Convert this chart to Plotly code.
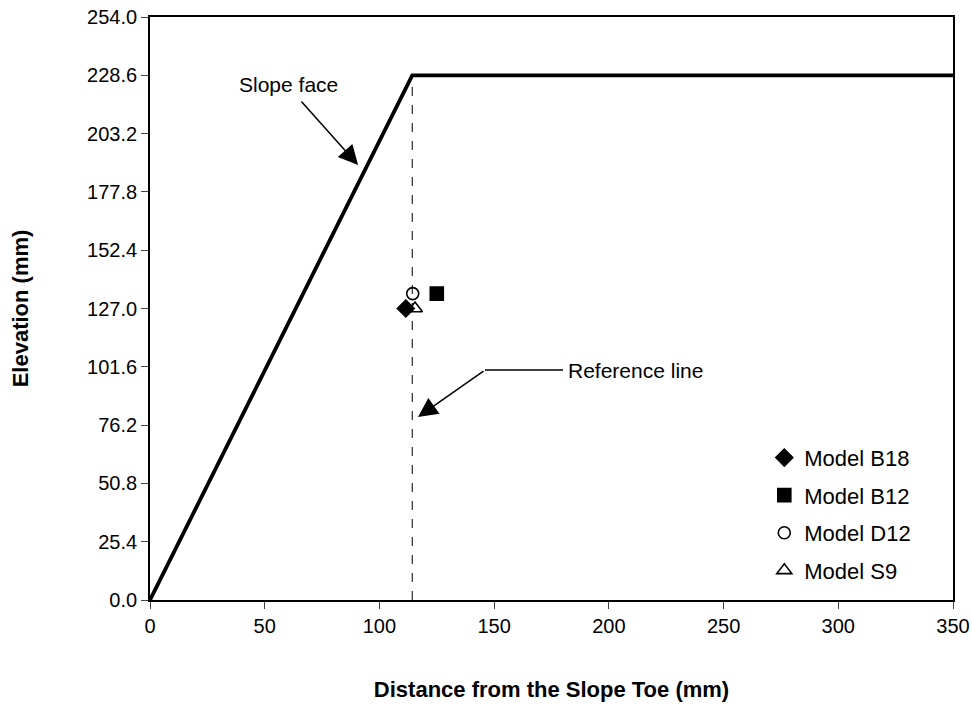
import plotly.graph_objects as go

# Slope profile (mm)
profile_x = [0, 114.3, 350]
profile_y = [0, 228.6, 228.6]

# Reference line
ref_x = [114.3, 114.3]
ref_y = [0, 228.6]

# Model measurements
models = ["Model B18", "Model B12", "Model D12", "Model S9"]
model_x = [111.5, 125.0, 114.5, 115.5]
model_y = [127.0, 133.5, 133.5, 127.0]
symbols = ["diamond", "square", "circle-open", "triangle-up-open"]
sizes = [13, 13, 12, 13]

y_ticks = [0.0, 25.4, 50.8, 76.2, 101.6, 127.0, 152.4, 177.8, 203.2, 228.6, 254.0]
x_ticks = [0, 50, 100, 150, 200, 250, 300, 350]

font_family = "Liberation Sans, Arial, sans-serif"

fig = go.Figure()
fig.add_trace(go.Scatter(x=profile_x, y=profile_y, mode="lines",
                         line=dict(color="black", width=3.8), showlegend=False, hoverinfo="skip"))
fig.add_trace(go.Scatter(x=ref_x, y=ref_y, mode="lines",
                         line=dict(color="black", width=1, dash="dash"), showlegend=False, hoverinfo="skip"))
for name, xv, yv, sym, sz in zip(models, model_x, model_y, symbols, sizes):
    fig.add_trace(go.Scatter(x=[xv], y=[yv], mode="markers", name=name,
                             legendgroup=name,
                             marker=dict(symbol=sym, size=sz, color="black",
                                         line=dict(color="black", width=1.6))))

# Slope face annotation
fig.add_annotation(x=60.2, y=224.4, text="Slope face", showarrow=False,
                   font=dict(size=21, color="black", family=font_family))
fig.add_annotation(x=90.7, y=189.5, ax=65.4, ay=217.8, axref="x", ayref="y",
                   xref="x", yref="y", text="", showarrow=True,
                   arrowhead=2, arrowsize=2.6, arrowwidth=1.5, arrowcolor="black")

# Reference line annotation
fig.add_shape(type="line", x0=146, y0=100.2, x1=180, y1=100.2,
              line=dict(color="black", width=1.5))
fig.add_annotation(x=181.5, y=100.2, text="Reference line", showarrow=False,
                   xanchor="left", font=dict(size=21, color="black", family=font_family))
fig.add_annotation(x=116.8, y=79.7, ax=146, ay=100.2, axref="x", ayref="y",
                   xref="x", yref="y", text="", showarrow=True,
                   arrowhead=2, arrowsize=2.6, arrowwidth=1.5, arrowcolor="black")

fig.update_layout(
    width=972, height=708,
    margin=dict(l=150, r=19, t=17, b=108),
    paper_bgcolor="white", plot_bgcolor="white",
    font=dict(family=font_family, color="black", size=20),
    legend=dict(x=0.765, y=0.28, xanchor="left", yanchor="top",
                bgcolor="rgba(0,0,0,0)", font=dict(size=22),
                itemwidth=30, tracegroupgap=6),
    xaxis=dict(range=[0, 350], tickvals=x_ticks, ticks="outside", ticklen=7,
               automargin=False, ticklabeloverflow="allow",
               showgrid=False, zeroline=False, showline=True, linecolor="black",
               linewidth=1.8, mirror=True,
               title=dict(text="<b>Distance from the Slope Toe (mm)</b>",
                          font=dict(size=22), standoff=46)),
    yaxis=dict(range=[0, 254], tickvals=y_ticks, ticktext=[f"{v:.1f}" for v in y_ticks],
               ticks="outside", ticklen=7,
               automargin=False, ticklabeloverflow="allow",
               showgrid=False, zeroline=False, showline=True, linecolor="black",
               linewidth=1.8, mirror=True,
               title=dict(text="<b>Elevation (mm)</b>", font=dict(size=22), standoff=52)),
)

fig.write_html("out.html", config={"displayModeBar": False},
               post_script="document.body.style.margin='0';document.body.style.overflow='hidden';")
